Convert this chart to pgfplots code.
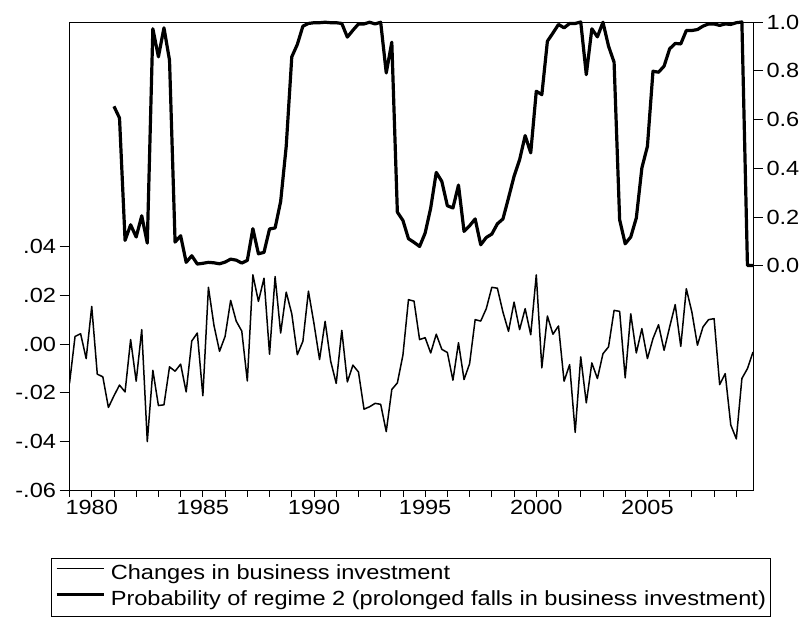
\documentclass[border=0pt]{standalone}
\usepackage{fontspec}
\setmainfont{Liberation Sans}[FakeStretch=1.15]
\usepackage{pgfplots}
\pgfplotsset{compat=1.18}
\begin{document}
\begin{tikzpicture}
\path[use as bounding box] (-69.5pt,-127pt) rectangle (738.5pt,490pt);
\pgfplotsset{
  base/.style={
    scale only axis, width=683.5pt, height=468pt,
    at={(0pt,0pt)}, anchor=south west,
    xmin=1979, xmax=2009.75,
    tick align=outside,
    /pgf/number format/assume math mode=true,
    ticklabel style={font=\fontsize{20.5}{24}\selectfont},
    axis line style={line width=0.8pt},
    every tick/.style={black, line width=0.8pt},
  }
}
% Axis 1: frame, left y axis, thin line
\begin{axis}[base,
  ymin=-0.06, ymax=0.1323,
  xtick=\empty,
  ytick={-0.06,-0.04,-0.02,0,0.02,0.04},
  yticklabels={-.06,-.04,-.02,.00,.02,.04},
  ytick pos=left,
  major tick length=10pt,
]
\addplot[black, line width=1.5pt, line join=round] coordinates {
(1979,-0.0162)(1979.25,0.0031)(1979.5,0.0042)(1979.75,-0.0060)
(1980,0.0154)(1980.25,-0.0124)(1980.5,-0.0135)(1980.75,-0.0261)
(1981,-0.0213)(1981.25,-0.0169)(1981.5,-0.0197)(1981.75,0.0018)
(1982,-0.0153)(1982.25,0.0059)(1982.5,-0.0401)(1982.75,-0.0108)
(1983,-0.0253)(1983.25,-0.0250)(1983.5,-0.0094)(1983.75,-0.0112)
(1984,-0.0083)(1984.25,-0.0197)(1984.5,0.0012)(1984.75,0.0045)
(1985,-0.0213)(1985.25,0.0233)(1985.5,0.0076)(1985.75,-0.0030)
(1986,0.0031)(1986.25,0.0179)(1986.5,0.0094)(1986.75,0.0053)
(1987,-0.0152)(1987.25,0.0284)(1987.5,0.0175)(1987.75,0.0270)
(1988,-0.0042)(1988.25,0.0277)(1988.5,0.0045)(1988.75,0.0213)
(1989,0.0124)(1989.25,-0.0044)(1989.5,0.0011)(1989.75,0.0217)
(1990,0.0083)(1990.25,-0.0064)(1990.5,0.0093)(1990.75,-0.0071)
(1991,-0.0162)(1991.25,0.0056)(1991.5,-0.0156)(1991.75,-0.0087)
(1992,-0.0115)(1992.25,-0.0268)(1992.5,-0.0258)(1992.75,-0.0244)
(1993,-0.0248)(1993.25,-0.0360)(1993.5,-0.0187)(1993.75,-0.0160)
(1994,-0.0046)(1994.25,0.0182)(1994.5,0.0176)(1994.75,0.0018)
(1995,0.0026)(1995.25,-0.0037)(1995.5,0.0040)(1995.75,-0.0022)
(1996,-0.0035)(1996.25,-0.0149)(1996.5,0.0005)(1996.75,-0.0146)
(1997,-0.0081)(1997.25,0.0100)(1997.5,0.0094)(1997.75,0.0145)
(1998,0.0233)(1998.25,0.0229)(1998.5,0.0131)(1998.75,0.0052)
(1999,0.0172)(1999.25,0.0059)(1999.5,0.0145)(1999.75,0.0038)
(2000,0.0284)(2000.25,-0.0098)(2000.5,0.0115)(2000.75,0.0040)
(2001,0.0074)(2001.25,-0.0153)(2001.5,-0.0085)(2001.75,-0.0363)
(2002,-0.0053)(2002.25,-0.0242)(2002.5,-0.0078)(2002.75,-0.0142)
(2003,-0.0040)(2003.25,-0.0012)(2003.5,0.0138)(2003.75,0.0134)
(2004,-0.0139)(2004.25,0.0124)(2004.5,-0.0037)(2004.75,0.0063)
(2005,-0.0060)(2005.25,0.0022)(2005.5,0.0079)(2005.75,-0.0026)
(2006,0.0070)(2006.25,0.0162)(2006.5,-0.0010)(2006.75,0.0227)
(2007,0.0131)(2007.25,-0.0005)(2007.5,0.0070)(2007.75,0.0100)
(2008,0.0104)(2008.25,-0.0167)(2008.5,-0.0122)(2008.75,-0.0333)
(2009,-0.0390)(2009.25,-0.0142)(2009.5,-0.0101)(2009.75,-0.0033)
};
\end{axis}
% Axis 3: x ticks
\begin{axis}[base,
  ymin=0, ymax=1,
  axis x line*=bottom, axis y line=none,
  xtick={1980,1985,1990,1995,2000,2005},
  xticklabels={1980,1985,1990,1995,2000,2005},
  minor xtick={1979,1981,1982,1983,1984,1986,1987,1988,1989,1991,1992,1993,1994,1996,1997,1998,1999,2001,2002,2003,2004,2006,2007,2008,2009},
  major tick length=7pt, minor tick length=7pt,
]
\end{axis}
% Axis 2: right y axis, thick line, legend
\begin{axis}[base,
  ymin=-0.92, ymax=1.0,
  axis y line*=right, axis x line=none,
  ytick={0,0.2,0.4,0.6,0.8,1.0},
  yticklabels={0.0,0.2,0.4,0.6,0.8,1.0},
  major tick length=10pt,
  clip=false,
  legend style={at={(-0.0275,-0.1453)}, anchor=north west,
    draw=black, line width=0.8pt, fill=white,
    font=\fontsize{20.5}{24}\selectfont,
    nodes={inner sep=0pt, text height=15pt, text depth=5pt},
    inner xsep=4pt, inner ysep=6pt, row sep=6.5pt, column sep=5.5pt},
  legend cell align=left,
  legend image code/.code={\draw[#1] (0pt,6pt) -- (47pt,6pt);},
]
\addlegendimage{black, line width=1.5pt}
\addlegendentry{Changes in business investment}
\addplot[black, line width=3.2pt, line join=round] coordinates {
(1981,0.654)(1981.25,0.606)(1981.5,0.104)(1981.75,0.168)
(1982,0.118)(1982.25,0.205)(1982.5,0.093)(1982.75,0.972)
(1983,0.857)(1983.25,0.976)(1983.5,0.843)(1983.75,0.097)
(1984,0.123)(1984.25,0.014)(1984.5,0.041)(1984.75,0.007)
(1985,0.010)(1985.25,0.014)(1985.5,0.012)(1985.75,0.008)
(1986,0.015)(1986.25,0.027)(1986.5,0.023)(1986.75,0.011)
(1987,0.022)(1987.25,0.152)(1987.5,0.049)(1987.75,0.055)
(1988,0.151)(1988.25,0.155)(1988.5,0.264)(1988.75,0.490)
(1989,0.857)(1989.25,0.908)(1989.5,0.983)(1989.75,0.994)
(1990,0.997)(1990.25,0.997)(1990.5,0.999)(1990.75,0.997)
(1991,0.997)(1991.25,0.994)(1991.5,0.938)(1991.75,0.966)
(1992,0.992)(1992.25,0.992)(1992.5,0.999)(1992.75,0.992)
(1993,0.999)(1993.25,0.791)(1993.5,0.917)(1993.75,0.220)
(1994,0.186)(1994.25,0.111)(1994.5,0.096)(1994.75,0.079)
(1995,0.134)(1995.25,0.237)(1995.5,0.383)(1995.75,0.346)
(1996,0.246)(1996.25,0.237)(1996.5,0.331)(1996.75,0.141)
(1997,0.164)(1997.25,0.192)(1997.5,0.086)(1997.75,0.116)
(1998,0.130)(1998.25,0.172)(1998.5,0.192)(1998.75,0.278)
(1999,0.367)(1999.25,0.435)(1999.5,0.534)(1999.75,0.463)
(2000,0.716)(2000.25,0.702)(2000.5,0.921)(2000.75,0.955)
(2001,0.990)(2001.25,0.976)(2001.5,0.994)(2001.75,0.994)
(2002,1.000)(2002.25,0.784)(2002.5,0.972)(2002.75,0.939)
(2003,0.999)(2003.25,0.901)(2003.5,0.835)(2003.75,0.189)
(2004,0.090)(2004.25,0.118)(2004.5,0.196)(2004.75,0.401)
(2005,0.490)(2005.25,0.798)(2005.5,0.794)(2005.75,0.819)
(2006,0.890)(2006.25,0.912)(2006.5,0.910)(2006.75,0.965)
(2007,0.965)(2007.25,0.969)(2007.5,0.983)(2007.75,0.992)
(2008,0.992)(2008.25,0.986)(2008.5,0.992)(2008.75,0.990)
(2009,0.997)(2009.25,1.000)(2009.5,0.001)(2009.75,0.001)
};
\addlegendentry{Probability of regime 2 (prolonged falls in business investment)}
\end{axis}
\end{tikzpicture}
\end{document}
